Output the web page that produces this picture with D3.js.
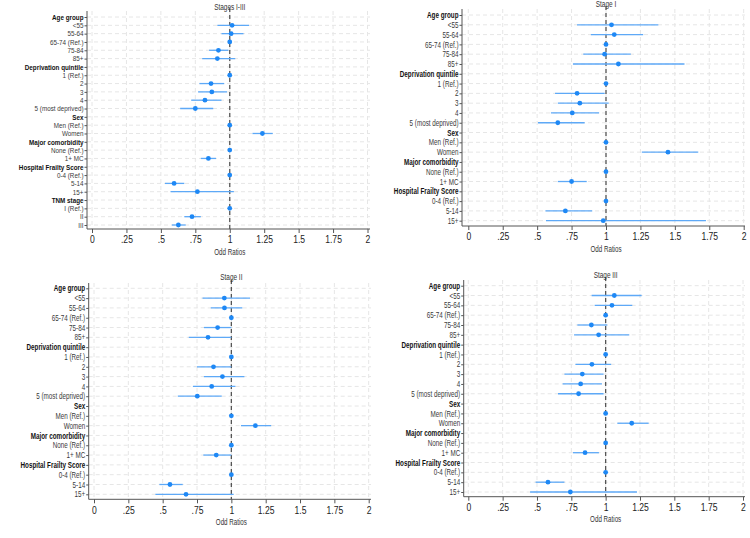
<!DOCTYPE html>
<html lang="en">
<head>
<meta charset="utf-8">
<title>Odd ratios by stage</title>
<script src="https://d3js.org/d3.v7.min.js"></script>
<style>
  body { margin: 0; background: #fff; }
  text { font-family: "Liberation Sans", Arial, sans-serif; }
</style>
</head>
<body>
<div id="mainDiv"></div>
<script>
const width = 750
const height = 538

// row labels (header rows are bold, no estimate)
const labelsAll = ["Age group", "<55", "55-64", "65-74 (Ref.)", "75-84", "85+",
  "Deprivation quintile", "1 (Ref.)", "2", "3", "4", "5 (most deprived)",
  "Sex", "Men (Ref.)", "Women",
  "Major comorbidity", "None (Ref.)", "1+ MC",
  "Hospital Frailty Score", "0-4 (Ref.)", "5-14", "15+",
  "TNM stage", "I (Ref.)", "II", "III"]
const labelsStage = labelsAll.slice(0, 22)
const headers = ["Age group", "Deprivation quintile", "Sex", "Major comorbidity", "Hospital Frailty Score", "TNM stage"]

const xTicks = [0, 0.25, 0.5, 0.75, 1, 1.25, 1.5, 1.75, 2]
const xTickLabels = ["0", ".25", ".5", ".75", "1", "1.25", "1.5", "1.75", "2"]

// Stages I-III
const orAll = [null, 1.017, 1.01, 1, 0.918, 0.91, null, 1, 0.864, 0.87, 0.82, 0.75, null, 1, 1.237, null, 1, 0.845, null, 1, 0.596, 0.765, null, 1, 0.726, 0.627]
const loAll = [null, 0.91, 0.94, 1, 0.85, 0.80, null, 1, 0.78, 0.77, 0.72, 0.64, null, 1, 1.165, null, 1, 0.79, null, 1, 0.53, 0.57, null, 1, 0.67, 0.58]
const hiAll = [null, 1.14, 1.10, 1, 0.99, 1.04, null, 1, 0.96, 0.98, 0.94, 0.88, null, 1, 1.312, null, 1, 0.90, null, 1, 0.67, 1.03, null, 1, 0.79, 0.68]

// Stage I
const or1 = [null, 1.04, 1.06, 1, 0.99, 1.09, null, 1, 0.79, 0.81, 0.755, 0.65, null, 1, 1.45, null, 1, 0.75, null, 1, 0.705, 0.98]
const lo1 = [null, 0.79, 0.89, 1, 0.835, 0.76, null, 1, 0.63, 0.65, 0.60, 0.506, null, 1, 1.26, null, 1, 0.65, null, 1, 0.56, 0.564]
const hi1 = [null, 1.38, 1.27, 1, 1.18, 1.57, null, 1, 0.99, 1.02, 0.95, 0.845, null, 1, 1.67, null, 1, 0.86, null, 1, 0.90, 1.726]

// Stage II
const or2 = [null, 0.949, 0.95, 1, 0.90, 0.83, null, 1, 0.87, 0.935, 0.857, 0.752, null, 1, 1.175, null, 1, 0.89, null, 1, 0.553, 0.67]
const lo2 = [null, 0.79, 0.85, 1, 0.80, 0.69, null, 1, 0.75, 0.80, 0.72, 0.61, null, 1, 1.07, null, 1, 0.796, null, 1, 0.476, 0.447]
const hi2 = [null, 1.136, 1.08, 1, 1.0, 1.0, null, 1, 1.0, 1.095, 1.03, 0.93, null, 1, 1.29, null, 1, 1.0, null, 1, 0.646, 1.017]

// Stage III
const or3 = [null, 1.063, 1.046, 1, 0.896, 0.949, null, 1, 0.90, 0.83, 0.818, 0.803, null, 1, 1.19, null, 1, 0.85, null, 1, 0.58, 0.743]
const lo3 = [null, 0.898, 0.92, 1, 0.794, 0.77, null, 1, 0.78, 0.70, 0.687, 0.653, null, 1, 1.085, null, 1, 0.762, null, 1, 0.49, 0.45]
const hi3 = [null, 1.262, 1.194, 1, 1.012, 1.172, null, 1, 1.04, 0.985, 0.973, 0.985, null, 1, 1.313, null, 1, 0.951, null, 1, 0.70, 1.228]

// panel layout
const panels = [
  { title: "Stages I-III", labels: labelsAll, or: orAll, lo: loAll, hi: hiAll, labelSize: 7.2,
    x0: 92, x2: 367.5, yAxisX: 87, right: 370, top: 11, firstRow: 17, lastRow: 225, axisY: 229, titleY: 10 },
  { title: "Stage I", labels: labelsStage, or: or1, lo: lo1, hi: hi1, labelSize: 8.2,
    x0: 468.3, x2: 743.7, yAxisX: 462, right: 745, top: 9, firstRow: 15, lastRow: 220.7, axisY: 226, titleY: 7 },
  { title: "Stage II", labels: labelsStage, or: or2, lo: lo2, hi: hi2, labelSize: 8.2,
    x0: 94, x2: 368.7, yAxisX: 88.7, right: 371, top: 283, firstRow: 288.3, lastRow: 494.3, axisY: 499.3, titleY: 280 },
  { title: "Stage III", labels: labelsStage, or: or3, lo: lo3, hi: hi3, labelSize: 8.2,
    x0: 468.3, x2: 743, yAxisX: 463.7, right: 745, top: 280, firstRow: 285.7, lastRow: 492, axisY: 496.7, titleY: 278 }
]

const glyphWidth = 6.3 // condensed width target, squeeze = glyphWidth / font size

const svg = d3.select('#mainDiv').append('svg')
  .attr('width', width)
  .attr('height', height)

panels.forEach(p => {
  const g = svg.append('g')
  const rows = p.labels.map((l, i) => ({ label: l, or: p.or[i], lo: p.lo[i], hi: p.hi[i], i: i }))
  const squeeze = glyphWidth / p.labelSize

  const xScale = d3.scaleLinear().domain([0, 2]).range([p.x0, p.x2])
  const yScale = d3.scalePoint().domain(rows.map(d => d.i)).range([p.firstRow, p.lastRow])

  // grid
  g.selectAll('.hgrid').data(rows).enter().append('line')
    .attr('x1', p.yAxisX).attr('x2', p.right)
    .attr('y1', d => yScale(d.i)).attr('y2', d => yScale(d.i))
    .attr('stroke', '#e6e6e6').attr('stroke-width', 1).attr('stroke-dasharray', '4,3')
  g.selectAll('.vgrid').data(xTicks).enter().append('line')
    .attr('x1', d => xScale(d)).attr('x2', d => xScale(d))
    .attr('y1', p.top).attr('y2', p.axisY)
    .attr('stroke', '#e6e6e6').attr('stroke-width', 1).attr('stroke-dasharray', '4,3')

  // reference line at 1
  g.append('line')
    .attr('x1', xScale(1)).attr('x2', xScale(1))
    .attr('y1', p.top - 3).attr('y2', p.axisY)
    .attr('stroke', '#555').attr('stroke-width', 1.3).attr('stroke-dasharray', '4,3')

  // confidence intervals
  g.selectAll('.ci').data(rows.filter(d => d.or !== null && d.lo !== d.hi)).enter().append('line')
    .attr('x1', d => xScale(d.lo)).attr('x2', d => xScale(d.hi))
    .attr('y1', d => yScale(d.i)).attr('y2', d => yScale(d.i))
    .attr('stroke', '#5ea9f7').attr('stroke-width', 1.3)

  // estimates
  g.selectAll('.pt').data(rows.filter(d => d.or !== null)).enter().append('circle')
    .attr('cx', d => xScale(d.or)).attr('cy', d => yScale(d.i))
    .attr('r', 2.4)
    .style('fill', '#1e88f5')

  // y axis
  const yAxis = d3.axisLeft(yScale)
    .tickSize(2.5).tickSizeOuter(0)
    .tickFormat(i => p.labels[i])
  const ya = g.append('g')
    .attr('transform', `translate(${p.yAxisX},0)`)
    .attr('color', '#333')
    .call(yAxis)
  ya.select('.domain').remove()
  ya.selectAll('.tick line').attr('stroke', '#555')
  ya.selectAll('.tick text')
    .attr('x', 0)
    .attr('transform', `translate(-3.5,0) scale(${squeeze},1)`)
    .attr('fill', i => headers.includes(p.labels[i]) ? '#111' : '#3a3a3a')
    .style('font-size', p.labelSize + 'px')
    .style('font-weight', i => headers.includes(p.labels[i]) ? 'bold' : 'normal')

  g.append('line')
    .attr('x1', p.yAxisX).attr('x2', p.yAxisX)
    .attr('y1', p.top).attr('y2', p.axisY)
    .attr('stroke', '#555').attr('stroke-width', 1)

  // x axis
  const xAxis = d3.axisBottom(xScale)
    .tickValues(xTicks).tickSize(4).tickSizeOuter(0)
    .tickFormat((d, i) => xTickLabels[i])
  const xa = g.append('g')
    .attr('transform', `translate(0,${p.axisY})`)
    .attr('color', '#333')
    .call(xAxis)
  xa.select('.domain').remove()
  xa.selectAll('.tick line').attr('stroke', '#555')
  xa.selectAll('.tick text')
    .attr('transform', 'scale(0.86,1)')
    .attr('dy', '0.75em').attr('fill', '#222').style('font-size', '10px')
  g.append('line')
    .attr('x1', p.yAxisX).attr('x2', p.right)
    .attr('y1', p.axisY).attr('y2', p.axisY)
    .attr('stroke', '#555').attr('stroke-width', 1)

  // title and x label
  g.append('text')
    .attr('transform', `translate(${xScale(1)},${p.titleY}) scale(0.76,1)`)
    .attr('text-anchor', 'middle')
    .attr('fill', '#333')
    .style('font-size', '8.5px')
    .text(p.title)
  g.append('text')
    .attr('transform', `translate(${xScale(1)},${p.axisY + 25.5}) scale(0.76,1)`)
    .attr('text-anchor', 'middle')
    .attr('fill', '#333')
    .style('font-size', '8.2px')
    .text('Odd Ratios')
})
</script>
</body>
</html>
